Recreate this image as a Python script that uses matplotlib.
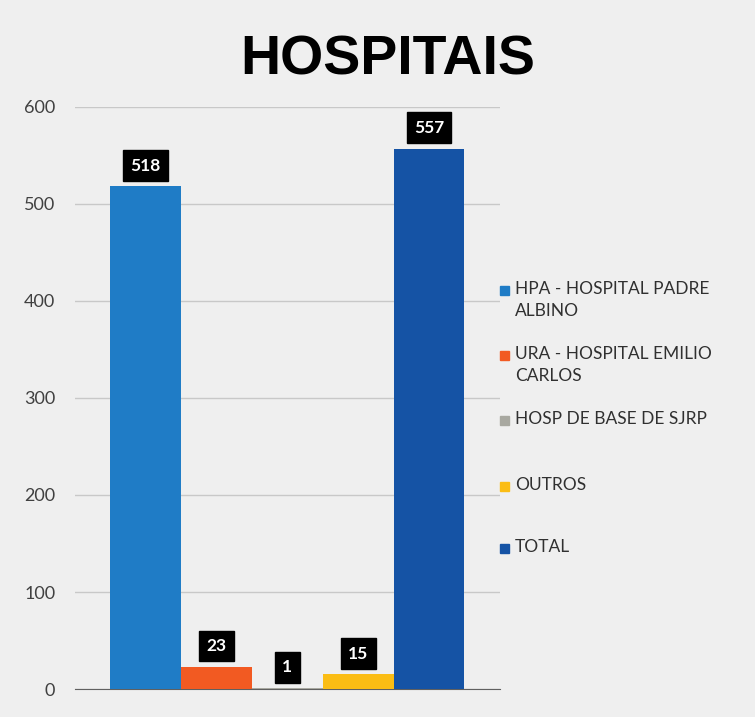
import matplotlib.pyplot as plt
from matplotlib.patches import Rectangle

# valores
categorias = ["HPA - HOSPITAL PADRE\nALBINO", "URA - HOSPITAL EMILIO\nCARLOS",
              "HOSP DE BASE DE SJRP", "OUTROS", "TOTAL"]
valores = [518, 23, 1, 15, 557]
cores = ["#1f7cc6", "#f25a22", "#a8a8a0", "#fbbd14", "#1553a5"]
yticks = [0, 100, 200, 300, 400, 500, 600]

plt.rcParams["font.family"] = ["Lato", "DejaVu Sans"]

fig = plt.figure(figsize=(7.55, 7.17), dpi=100, facecolor="#efefef")
ax = fig.add_axes([0.099, 0.039, 0.563, 0.812])
ax.set_facecolor("none")

x = range(len(valores))
ax.bar(x, valores, width=1.0, color=cores, zorder=3)

for xi, v in zip(x, valores):
    ax.annotate(str(v), (xi, v), xytext=(0, 15), textcoords="offset points",
                ha="center", va="center", color="white", fontsize=12.5,
                fontweight="bold", zorder=5,
                bbox=dict(boxstyle="square,pad=0.42", fc="black", ec="black"))

ax.set_xlim(-1, 5)
ax.set_ylim(0, 600)
ax.set_yticks(yticks)
ax.tick_params(axis="y", length=0, labelsize=13, labelcolor="#404040", pad=14)
ax.set_xticks([])
ax.grid(axis="y", color="#c8c8c8", linewidth=1, zorder=0)
for s in ["top", "right", "left"]:
    ax.spines[s].set_visible(False)
ax.spines["bottom"].set_color("#606060")

fig.text(0.514, 0.915, "HOSPITAIS", ha="center", va="center", fontsize=40,
         fontweight="bold", family="Liberation Sans", color="black")

# legenda desenhada à mão (posições em pixels da figura)
W, H = 755, 717
leg_y = [290, 355, 420, 486, 548]
for cat, cor, yy in zip(categorias, cores, leg_y):
    fig.add_artist(Rectangle(((500) / W, 1 - (yy + 5) / H), 9 / W, 9 / H,
                             transform=fig.transFigure, color=cor))
    fig.text(515 / W, 1 - (yy - 9) / H, cat, ha="left", va="top",
             fontsize=12.5, color="#303030", linespacing=1.45)

fig.savefig("out.png", dpi=100, facecolor=fig.get_facecolor())
